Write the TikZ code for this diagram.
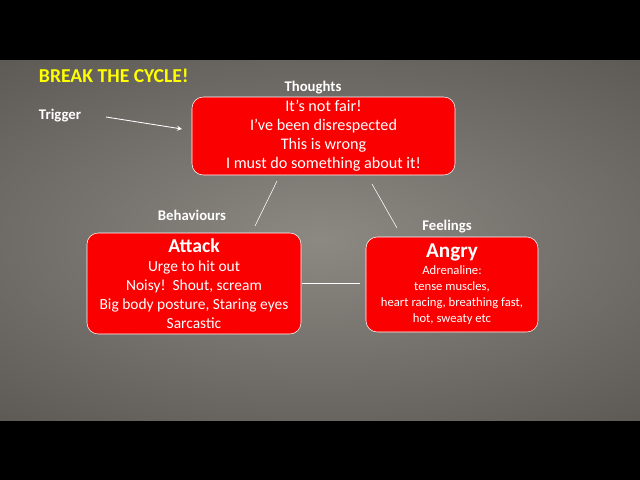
\documentclass[tikz,border=0pt]{standalone}
\usepackage{fontspec}
\setmainfont{Carlito}
\usetikzlibrary{positioning}
\definecolor{boxRed}{RGB}{250,0,0}
\definecolor{bgDark}{RGB}{92,88,84}
\definecolor{bgLight}{RGB}{140,136,130}
\definecolor{titleYellow}{RGB}{255,255,0}
\begin{document}
\begin{tikzpicture}[x=0.025cm,y=-0.025cm,%%
  boxStyle/.style={draw=white,fill=boxRed,rounded corners=8pt,thin,text=white,align=center,inner sep=0pt},%%
  labelStyle/.style={text=white,font=\bfseries\fontsize{10.5}{12}\selectfont},%%
  lineStyle/.style={-,white,thin},%%
  arrowStyle/.style={->,white,semithick,>=stealth}%%
]
%% Background and bars.
\useasboundingbox (0,0) rectangle (640,480);
\fill[black] (0,0) rectangle (640,480);
\begin{scope}
\clip (0,60) rectangle (640,420);
\shade[inner color=bgLight,outer color=bgDark] (-200,0) rectangle (840,480);
\end{scope}
%%
%% The three boxes.
\node[boxStyle,minimum width=263*0.025cm,minimum height=78*0.025cm,
  font=\fontsize{11.5}{13.5}\selectfont] (thoughts) at (323.5,136)
  {It’s not fair!\\I’ve been disrespected\\This is wrong\\I must do something about it!};
\node[boxStyle,minimum width=214*0.025cm,minimum height=101*0.025cm,
  font=\fontsize{11}{13.5}\selectfont] (attack) at (194,283.5)
  {{\bfseries\fontsize{14}{16}\selectfont Attack}\\Urge to hit out\\Noisy!\ \ Shout, scream\\Big body posture, Staring eyes\\Sarcastic};
\node[boxStyle,minimum width=172*0.025cm,minimum height=95*0.025cm,
  font=\fontsize{9}{11.5}\selectfont] (angry) at (452,284.5)
  {{\bfseries\fontsize{15}{17}\selectfont Angry}\\Adrenaline:\\tense muscles,\\heart racing, breathing fast,\\hot, sweaty etc};
%%
%% Labels.
\node[text=titleYellow,font=\bfseries\fontsize{14}{16}\selectfont,anchor=west] (title) at (34,76) {BREAK THE CYCLE!};
\node[labelStyle,anchor=west] (trigger) at (34,116) {Trigger};
\node[labelStyle] (thoughtsLabel) at (313,88) {Thoughts};
\node[labelStyle] (behavLabel) at (192,215) {Behaviours};
\node[labelStyle] (feelLabel) at (447,227) {Feelings};
%%
%% Connectors.
\coordinate (tA) at (277,181);
\coordinate (aT) at (255,226);
\coordinate (tF) at (372,184);
\coordinate (fT) at (397,228);
\coordinate (aF) at (302,283);
\coordinate (fA) at (360,283);
\draw[lineStyle] (tA) -- (aT);
\draw[lineStyle] (tF) -- (fT);
\draw[lineStyle] (aF) -- (fA);
\coordinate (trigStart) at (106,117);
\coordinate (trigEnd) at (182,129);
\draw[arrowStyle] (trigStart) -- (trigEnd);
\end{tikzpicture}
\end{document}
